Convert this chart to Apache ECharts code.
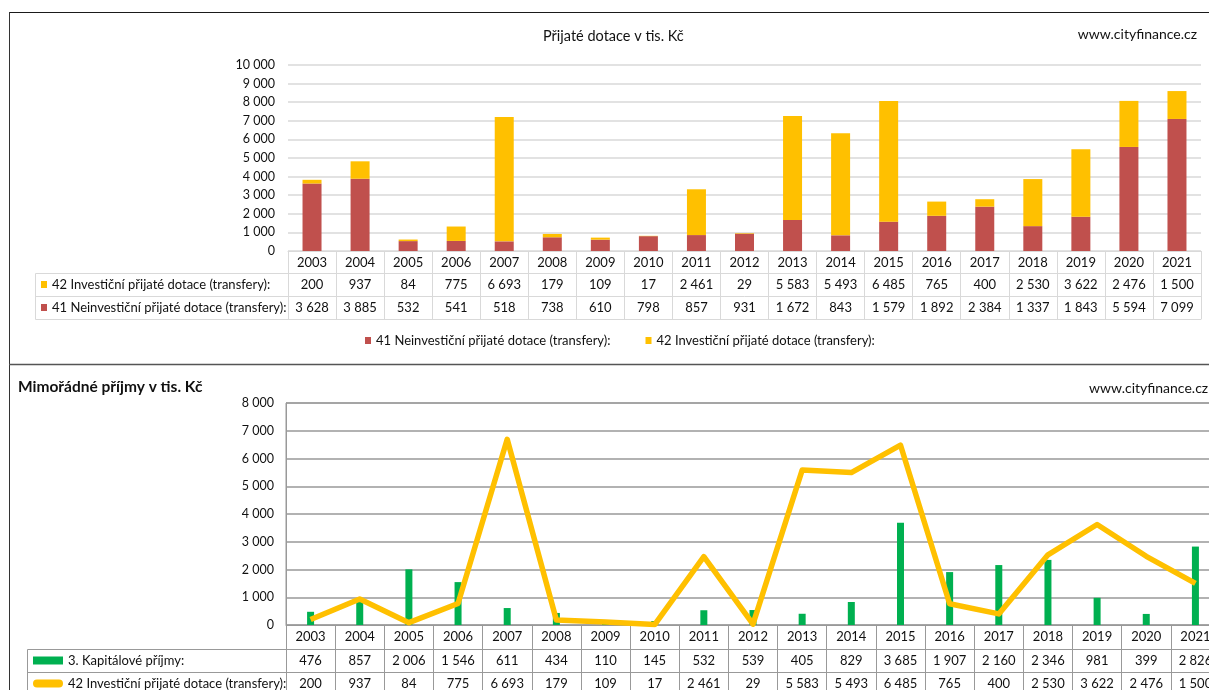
<!DOCTYPE html>
<html>
<head>
<meta charset="utf-8">
<script src="https://cdn.jsdelivr.net/npm/echarts@6/dist/echarts.min.js"></script>
<style>
html, body { margin: 0; padding: 0; background: #fff; }
#main { width: 1209px; height: 690px; }
</style>
</head>
<body>
<div id="main"></div>
<script>
var years = ['2003', '2004', '2005', '2006', '2007', '2008', '2009', '2010', '2011', '2012',
  '2013', '2014', '2015', '2016', '2017', '2018', '2019', '2020', '2021'];
var neinvestice = [3628, 3885, 532, 541, 518, 738, 610, 798, 857, 931, 1672, 843, 1579, 1892, 2384, 1337, 1843, 5594, 7099];
var investice = [200, 937, 84, 775, 6693, 179, 109, 17, 2461, 29, 5583, 5493, 6485, 765, 400, 2530, 3622, 2476, 1500];
var kapitalove = [476, 857, 2006, 1546, 611, 434, 110, 145, 532, 539, 405, 829, 3685, 1907, 2160, 2346, 981, 399, 2826];

var nameNeinv = '41 Neinvestiční přijaté dotace (transfery):';
var nameInv = '42 Investiční přijaté dotace (transfery):';
var nameKap = '3. Kapitálové příjmy:';

var FONT = 'Lato, "Liberation Sans", sans-serif';
var TXT = '#111';
var lightLine = '#d9d9d9';
var darkLine = '#999';

function fmt(v) {
  return String(v).replace(/\B(?=(\d{3})+(?!\d))/g, ' ');
}

// one row of the data table = one extra category axis under the grid
function tableAxis(gridIndex, data, offset, color, tickLen, showLabel) {
  return {
    type: 'category',
    gridIndex: gridIndex,
    position: 'bottom',
    offset: offset,
    data: data,
    axisLine: { show: true, lineStyle: { color: color, width: 1 } },
    axisTick: { show: tickLen > 0, interval: 0, length: tickLen, lineStyle: { color: color } },
    axisLabel: {
      show: showLabel, interval: 0, margin: 5,
      fontFamily: FONT, fontSize: 13, color: TXT
    },
    splitLine: { show: false },
    axisPointer: { show: false }
  };
}

var chartDom = document.getElementById('main');
var myChart = echarts.init(chartDom);
var option;

option = {
  animation: false,
  title: [
    { text: 'Přijaté dotace v tis. Kč', left: 543, top: 29, padding: 0,
      textStyle: { fontFamily: FONT, fontSize: 14.5, fontWeight: 'normal', color: TXT } },
    { text: 'www.cityfinance.cz', right: 12, top: 27, padding: 0,
      textStyle: { fontFamily: FONT, fontSize: 14, fontWeight: 'normal', color: TXT } },
    { text: 'Mimořádné příjmy v tis. Kč', left: 18, top: 379, padding: 0,
      textStyle: { fontFamily: FONT, fontSize: 15.5, fontWeight: 'bold', color: TXT } },
    { text: 'www.cityfinance.cz', left: 1089, top: 381, padding: 0,
      textStyle: { fontFamily: FONT, fontSize: 14, fontWeight: 'normal', color: TXT } }
  ],
  grid: [
    { left: 288, width: 913, top: 65, height: 186, outerBoundsMode: 'none' },
    { left: 286, width: 934, top: 403, height: 222, outerBoundsMode: 'none', show: true,
      borderColor: darkLine, borderWidth: 1, backgroundColor: 'transparent' }
  ],
  legend: [
    {
      orient: 'vertical', left: 41, top: 278, itemGap: 10, padding: 0,
      itemWidth: 6, itemHeight: 7, icon: 'rect',
      data: [nameInv, nameNeinv],
      textStyle: { fontFamily: FONT, fontSize: 13, color: TXT }
    },
    {
      orient: 'horizontal', left: 365, top: 334, itemGap: 35, padding: 0,
      itemWidth: 6, itemHeight: 7, icon: 'rect',
      data: [nameNeinv, nameInv],
      textStyle: { fontFamily: FONT, fontSize: 13, color: TXT }
    },
    {
      orient: 'vertical', left: 33, top: 654, itemGap: 10, padding: 0,
      itemWidth: 30, itemHeight: 8,
      data: [
        { name: nameKap, icon: 'rect' },
        { name: nameInv, icon: 'path://M4,0 L26,0 A4,4 0 0 1 26,8 L4,8 A4,4 0 0 1 4,0 Z' }
      ],
      textStyle: { fontFamily: FONT, fontSize: 13, color: TXT }
    }
  ],
  xAxis: [
    tableAxis(0, years, 0, lightLine, 22, true),
    tableAxis(0, investice.map(fmt), 22, lightLine, 23, true),
    tableAxis(0, neinvestice.map(fmt), 45, lightLine, 23, true),
    tableAxis(0, years, 68, lightLine, 0, false),
    tableAxis(1, years, 0, darkLine, 24, true),
    tableAxis(1, kapitalove.map(fmt), 24, darkLine, 23, true),
    tableAxis(1, investice.map(fmt), 47, darkLine, 23, true)
  ],
  yAxis: [
    {
      type: 'value', gridIndex: 0, min: 0, max: 10000, interval: 1000,
      axisLine: { show: false }, axisTick: { show: false },
      axisLabel: { margin: 13, fontFamily: FONT, fontSize: 12.5, color: TXT, formatter: fmt },
      splitLine: { lineStyle: { color: lightLine, width: 1.5 } }
    },
    {
      type: 'value', gridIndex: 1, min: 0, max: 8000, interval: 1000,
      axisLine: { show: true, lineStyle: { color: darkLine } }, axisTick: { show: false },
      axisLabel: { margin: 12, fontFamily: FONT, fontSize: 12.5, color: TXT, formatter: fmt },
      splitLine: { lineStyle: { color: darkLine, width: 1.5 } }
    }
  ],
  series: [
    {
      name: nameNeinv, type: 'bar', stack: 'dotace', xAxisIndex: 0, yAxisIndex: 0,
      barWidth: 19, itemStyle: { color: '#c0504d' }, data: neinvestice
    },
    {
      name: nameInv, type: 'bar', stack: 'dotace', xAxisIndex: 0, yAxisIndex: 0,
      barWidth: 19, itemStyle: { color: '#ffc000' }, data: investice
    },
    {
      name: nameKap, type: 'bar', xAxisIndex: 4, yAxisIndex: 1,
      barWidth: 7, itemStyle: { color: '#00b050' }, data: kapitalove
    },
    {
      name: nameInv, type: 'line', xAxisIndex: 4, yAxisIndex: 1,
      symbol: 'none', z: 5,
      itemStyle: { color: '#ffc000' },
      lineStyle: { color: '#ffc000', width: 5.5, join: 'round' },
      data: investice
    }
  ],
  graphic: [
    // frame of the sheet
    { type: 'line', shape: { x1: 9, y1: 12.5, x2: 1209, y2: 12.5 }, style: { stroke: '#1a1a1a', lineWidth: 1 } },
    { type: 'line', shape: { x1: 9.5, y1: 12, x2: 9.5, y2: 690 }, style: { stroke: '#333', lineWidth: 1 } },
    { type: 'line', shape: { x1: 9, y1: 364.5, x2: 1209, y2: 364.5 }, style: { stroke: '#555', lineWidth: 1.5 } },
    // row header cells of the upper table
    { type: 'line', shape: { x1: 35.5, y1: 273.5, x2: 288, y2: 273.5 }, style: { stroke: lightLine } },
    { type: 'line', shape: { x1: 35.5, y1: 296.5, x2: 288, y2: 296.5 }, style: { stroke: lightLine } },
    { type: 'line', shape: { x1: 35.5, y1: 319.5, x2: 288, y2: 319.5 }, style: { stroke: lightLine } },
    { type: 'line', shape: { x1: 35.5, y1: 273.5, x2: 35.5, y2: 319.5 }, style: { stroke: lightLine } },
    // row header cells of the lower table
    { type: 'line', shape: { x1: 27.5, y1: 649.5, x2: 286, y2: 649.5 }, style: { stroke: darkLine } },
    { type: 'line', shape: { x1: 27.5, y1: 672.5, x2: 286, y2: 672.5 }, style: { stroke: darkLine } },
    { type: 'line', shape: { x1: 27.5, y1: 649.5, x2: 27.5, y2: 690 }, style: { stroke: darkLine } }
  ]
};

option && myChart.setOption(option);

window.onresize = function () {
  myChart.resize();
};
</script>
</body>
</html>
